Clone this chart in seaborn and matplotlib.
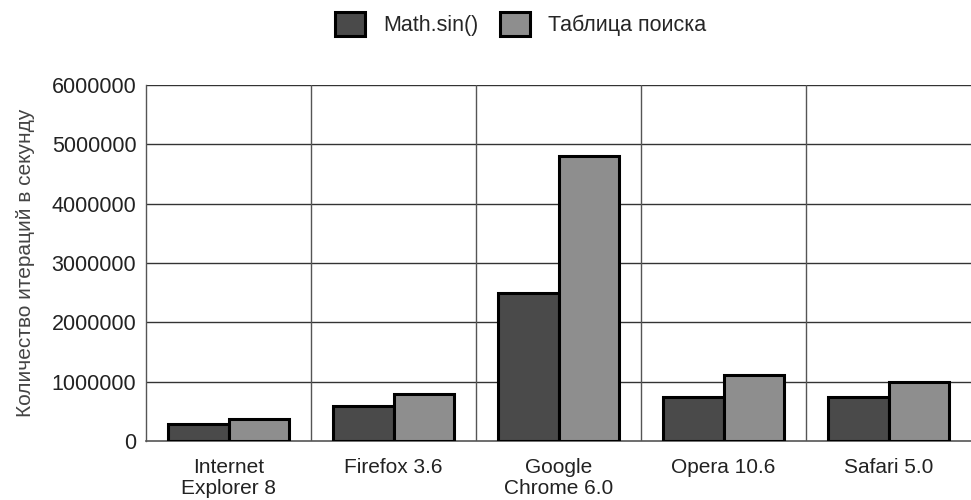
import seaborn as sns
import matplotlib.pyplot as plt
import pandas as pd

# Data
browsers = ["Internet\nExplorer 8", "Firefox 3.6", "Google\nChrome 6.0", "Opera 10.6", "Safari 5.0"]
math_sin = [290000, 590000, 2500000, 740000, 740000]
lookup_table = [370000, 790000, 4800000, 1110000, 1000000]
series_names = ["Math.sin()", "Таблица поиска"]

df = pd.DataFrame({
    "browser": browsers * 2,
    "value": math_sin + lookup_table,
    "method": [series_names[0]] * 5 + [series_names[1]] * 5,
})

sns.set_style("white")
plt.rcParams['font.family'] = ['Liberation Sans', 'DejaVu Sans']

fig = plt.figure(figsize=(9.71, 5), dpi=100)
ax = fig.add_axes([0.1504, 0.118, 0.8496, 0.712])

sns.barplot(data=df, x="browser", y="value", hue="method",
            palette=["#4a4a4a", "#8e8e8e"], saturation=1, width=0.73,
            edgecolor="black", linewidth=2.2, errorbar=None, ax=ax, zorder=3)

ax.set_xlim(-0.5, 4.5)
ax.set_ylim(0, 6000000)
ax.set_yticks(range(0, 6000001, 1000000))
ax.set_yticklabels([str(v) for v in range(0, 6000001, 1000000)])

# grid: horizontal at ticks, vertical at category boundaries
for y in range(1000000, 6000001, 1000000):
    ax.axhline(y, color="#333333", lw=1, zorder=1)
for x in [0.5, 1.5, 2.5, 3.5]:
    ax.axvline(x, color="#555555", lw=1, zorder=1)

for s in ["top", "right"]:
    ax.spines[s].set_visible(False)
ax.spines["left"].set_color("#555555")
ax.spines["bottom"].set_color("#555555")
ax.spines["left"].set_linewidth(1)
ax.spines["bottom"].set_linewidth(1.2)

ax.tick_params(axis="y", labelsize=15.5, colors="#222222", length=0, pad=7)
ax.tick_params(axis="x", labelsize=15, colors="#222222", length=0, pad=12)
for t in ax.get_xticklabels():
    t.set_linespacing(1.15)
ax.set_xlabel("")
ax.set_ylabel("Количество итераций в секунду", fontsize=15, color="#444444", labelpad=12)

handles, labels = ax.get_legend_handles_labels()
ax.legend_.remove()
fig.legend(handles, labels, loc="center", bbox_to_anchor=(0.536, 0.952), ncol=2,
           frameon=False, fontsize=15.5, handlelength=1.4, handleheight=1.35,
           columnspacing=1.0, handletextpad=0.85)

fig.savefig("out.png", dpi=100)
